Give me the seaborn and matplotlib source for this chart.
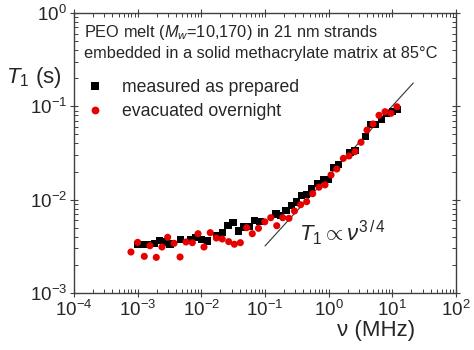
import numpy as np
import pandas as pd
import matplotlib
matplotlib.use("Agg")
import matplotlib.pyplot as plt
import seaborn as sns

# measured as prepared (black squares)
nu_prepared = [9.87e-4, 1.20e-3, 1.42e-3, 1.82e-3, 2.19e-3, 2.66e-3, 3.22e-3, 4.68e-3,
               6.81e-3, 8.24e-3, 1.01e-2, 1.23e-2, 1.74e-2, 2.17e-2, 2.62e-2, 3.14e-2,
               3.86e-2, 4.68e-2, 5.66e-2, 6.89e-2, 8.34e-2, 0.149, 0.178, 0.214, 0.259,
               0.315, 0.377, 0.452, 0.541, 0.672, 0.824, 0.987, 1.21, 1.45, 2.16, 2.59,
               3.76, 4.57, 5.53, 6.70, 8.14, 9.97, 12.1]
t1_prepared = [3.33e-3, 3.33e-3, 3.33e-3, 3.41e-3, 3.63e-3, 3.52e-3, 3.35e-3, 3.72e-3,
               3.76e-3, 3.95e-3, 3.76e-3, 3.61e-3, 4.15e-3, 4.47e-3, 5.31e-3, 5.66e-3,
               4.62e-3, 5.09e-3, 5.13e-3, 5.95e-3, 5.81e-3, 7.02e-3, 6.73e-3, 7.65e-3,
               8.65e-3, 9.44e-3, 1.10e-2, 1.13e-2, 1.32e-2, 1.48e-2, 1.65e-2, 1.66e-2,
               2.22e-2, 2.37e-2, 3.22e-2, 3.40e-2, 4.73e-2, 6.42e-2, 6.42e-2, 7.26e-2,
               8.42e-2, 8.76e-2, 9.29e-2]

# evacuated overnight (red circles)
nu_evacuated = [7.85e-4, 1.00e-3, 1.27e-3, 1.56e-3, 1.96e-3, 2.41e-3, 2.96e-3, 3.73e-3,
                4.63e-3, 5.74e-3, 7.22e-3, 8.88e-3, 1.10e-2, 1.38e-2, 1.72e-2, 2.13e-2,
                2.69e-2, 3.30e-2, 4.10e-2, 5.15e-2, 6.31e-2, 7.90e-2, 9.93e-2, 0.123,
                0.153, 0.190, 0.238, 0.290, 0.363, 0.451, 0.561, 0.705, 0.875, 1.09,
                1.34, 1.70, 2.09, 2.59, 3.22, 4.00, 4.97, 6.17, 7.67, 9.53, 11.8]
t1_evacuated = [2.75e-3, 3.49e-3, 2.47e-3, 3.21e-3, 2.41e-3, 3.11e-3, 3.95e-3, 3.41e-3,
                2.43e-3, 3.52e-3, 3.46e-3, 4.32e-3, 3.11e-3, 4.43e-3, 3.88e-3, 3.79e-3,
                3.55e-3, 3.33e-3, 3.46e-3, 5.01e-3, 4.32e-3, 4.93e-3, 5.79e-3, 6.41e-3,
                5.26e-3, 6.41e-3, 6.31e-3, 7.56e-3, 8.83e-3, 9.51e-3, 1.16e-2, 1.36e-2,
                1.44e-2, 1.84e-2, 2.13e-2, 2.77e-2, 2.94e-2, 3.27e-2, 4.12e-2, 5.57e-2,
                6.47e-2, 8.01e-2, 8.76e-2, 8.42e-2, 9.90e-2]

# power law guide T1 ~ nu^(3/4)
fit_nu = [0.1, 21.3]
fit_t1_ref = 3.19e-3
fit_exp = 0.75

labels = ["measured as prepared", "evacuated overnight"]

sns.set_style("ticks")
plt.rcParams["font.family"] = ["Liberation Sans", "DejaVu Sans"]
plt.rcParams["mathtext.fontset"] = "custom"
plt.rcParams["mathtext.rm"] = "Liberation Sans"
plt.rcParams["mathtext.it"] = "Liberation Sans:italic"
plt.rcParams["mathtext.sf"] = "Liberation Sans"

df = pd.concat([
    pd.DataFrame({"nu": nu_prepared, "t1": t1_prepared, "sample": labels[0]}),
    pd.DataFrame({"nu": nu_evacuated, "t1": t1_evacuated, "sample": labels[1]}),
])

fig = plt.figure(figsize=(4.74, 3.5), dpi=100)
ax = fig.add_axes([74 / 474, 1 - 293 / 350, 382 / 474, 280 / 350])

# guide line
fit_nu = np.array(fit_nu)
fit_df = pd.DataFrame({"nu": fit_nu, "t1": fit_t1_ref * (fit_nu / fit_nu[0]) ** fit_exp})
sns.lineplot(data=fit_df, x="nu", y="t1", ax=ax, color="#333333", lw=0.8)

sns.scatterplot(data=df, x="nu", y="t1", hue="sample", style="sample",
                palette={labels[0]: "black", labels[1]: "#e60000"},
                markers={labels[0]: "s", labels[1]: "o"},
                s=26, linewidth=0, ax=ax, zorder=3)

ax.set_xscale("log")
ax.set_yscale("log")
ax.set_xlim(1e-4, 1e2)
ax.set_ylim(1e-3, 1)

for side in ["top", "right", "left", "bottom"]:
    ax.spines[side].set_visible(True)
    ax.spines[side].set_color("#404040")
    ax.spines[side].set_linewidth(1.0)
ax.tick_params(which="major", direction="inout", length=6, width=0.8, color="#404040",
               top=True, right=True, labelsize=13.5, pad=2)
ax.tick_params(which="minor", direction="in", length=3, width=0.7, color="#404040",
               top=True, right=True)
ax.xaxis.set_major_locator(matplotlib.ticker.LogLocator(base=10, numticks=10))
ax.xaxis.set_minor_locator(matplotlib.ticker.LogLocator(base=10, subs=np.arange(2, 10), numticks=20))

ax.set_xlabel("ν (MHz)", fontsize=16)
ax.xaxis.set_label_coords(0.79, -0.095)
ax.set_ylabel("$T_{\\mathit{1}}$ (s)", fontsize=16, rotation=0)
ax.yaxis.set_label_coords(-0.105, 0.725)

ax.text(0.026, 0.932, "PEO melt ($M_w$=10,170) in 21 nm strands",
        transform=ax.transAxes, fontsize=11.8, va="center", ha="left")
ax.text(0.026, 0.857, "embedded in a solid methacrylate matrix at 85°C",
        transform=ax.transAxes, fontsize=11.8, va="center", ha="left")
ax.text(0.59, 0.215, "$T_1 \\propto \\nu^{3\\,/\\,4}$",
        transform=ax.transAxes, fontsize=16, va="center", ha="left")

ax.legend(loc="upper left", bbox_to_anchor=(-0.005, 0.808), frameon=False,
          fontsize=12.7, handletextpad=0.95, handlelength=1.2, borderaxespad=0.3,
          labelspacing=0.4, markerscale=1.1)

fig.savefig("out.png", dpi=100)
